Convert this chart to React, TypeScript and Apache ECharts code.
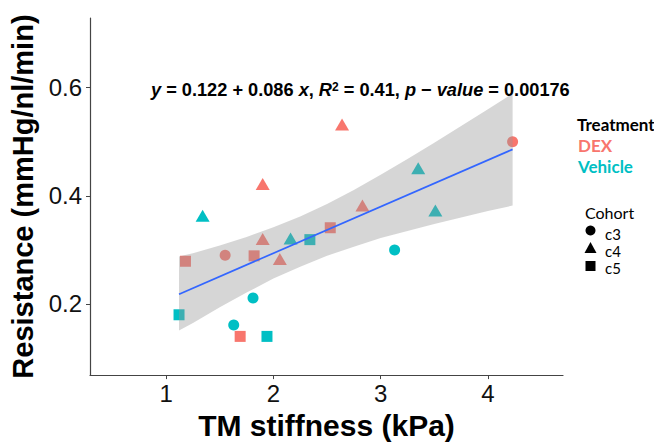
import React, { useEffect, useRef } from "react";
import * as echarts from "echarts";

// ---- data ----
const dexC3: [number, number][] = [[1.55, 0.29], [4.23, 0.5]];
const dexC4: [number, number][] = [[1.9, 0.32], [1.9, 0.422], [2.06, 0.283], [2.64, 0.532], [2.83, 0.382]];
const dexC5: [number, number][] = [[1.18, 0.279], [1.82, 0.289], [2.53, 0.341], [1.69, 0.14]];
const vehC3: [number, number][] = [[1.81, 0.211], [1.63, 0.161], [3.13, 0.3]];
const vehC4: [number, number][] = [[1.34, 0.363], [2.16, 0.321], [3.35, 0.451], [3.51, 0.373]];
const vehC5: [number, number][] = [[1.12, 0.18], [2.34, 0.319], [1.94, 0.14]];

const fitX = [1.12, 4.23];
const fitY = [0.218, 0.486];

const bandX = [1.12, 1.25, 1.5, 1.75, 2.0, 2.25, 2.5, 2.75, 3.0, 3.25, 3.5, 3.75, 4.0, 4.23];
const bandLo = [0.151, 0.165, 0.194, 0.221, 0.247, 0.269, 0.289, 0.306, 0.322, 0.335, 0.348, 0.36, 0.372, 0.382];
const bandHi = [0.288, 0.294, 0.308, 0.324, 0.342, 0.362, 0.385, 0.411, 0.439, 0.468, 0.498, 0.529, 0.56, 0.589];

const xTicks = [1, 2, 3, 4];
const yTicks = [0.2, 0.4, 0.6];
const treatments = ["DEX", "Vehicle"];
const cohorts = ["c3", "c4", "c5"];

const DEX_COLOR = "#F8766D";
const VEH_COLOR = "#00BFC4";
const FONT = '"Liberation Sans", Arial, sans-serif';
const LEG_FONT = 'Lato, "Liberation Sans", sans-serif';

export default function App() {
  const ref = useRef<HTMLDivElement>(null);
  useEffect(() => {
    if (!ref.current) return;
    const chart = echarts.init(ref.current, undefined, { renderer: "svg" });

    const scatter = (name: string, data: [number, number][], color: string, symbol: string, size: any) => ({
      type: "scatter",
      name,
      data,
      symbol,
      symbolSize: size,
      itemStyle: { color, opacity: 1 },
      z: 2,
      silent: true,
    });

    const bandData = bandX.map((x, i) => [x, bandLo[i], bandHi[i]]);

    chart.setOption({
      animation: false,
      grid: { left: 90, right: 91, top: 18, bottom: 67 },
      xAxis: {
        type: "value",
        min: 0.29,
        max: 4.7,
        name: "TM stiffness (kPa)",
        nameLocation: "middle",
        nameGap: 33,
        nameTextStyle: { fontSize: 30, fontWeight: "bold", color: "#000", fontFamily: FONT },
        axisLine: { show: true, lineStyle: { color: "#444", width: 1.2 } },
        axisTick: { show: true, length: 4, customValues: xTicks, lineStyle: { color: "#444" } },
        axisLabel: { customValues: xTicks, fontSize: 24, color: "#111", fontFamily: FONT, margin: 6 },
        splitLine: { show: false },
      },
      yAxis: {
        type: "value",
        min: 0.0684,
        max: 0.729,
        name: "Resistance (mmHg/nl/min)",
        nameLocation: "middle",
        nameGap: 50,
        nameTextStyle: { fontSize: 29, fontWeight: "bold", color: "#000", fontFamily: FONT, padding: [0, 0, 0, 0] },
        axisLine: { show: true, lineStyle: { color: "#444", width: 1.2 } },
        axisTick: { show: true, length: 4, customValues: yTicks, lineStyle: { color: "#444" } },
        axisLabel: { customValues: yTicks, fontSize: 24, color: "#111", fontFamily: FONT, margin: 8, formatter: (v: number) => v.toFixed(1) },
        splitLine: { show: false },
      },
      series: [
        scatter("DEX c3", dexC3, DEX_COLOR, "circle", 11),
        scatter("DEX c4", dexC4, DEX_COLOR, "triangle", [14, 12]),
        scatter("DEX c5", dexC5, DEX_COLOR, "rect", 11),
        scatter("Vehicle c3", vehC3, VEH_COLOR, "circle", 11),
        scatter("Vehicle c4", vehC4, VEH_COLOR, "triangle", [14, 12]),
        scatter("Vehicle c5", vehC5, VEH_COLOR, "rect", 11),
        {
          type: "custom",
          name: "band",
          data: bandData,
          encode: { x: 0, y: [1, 2] },
          z: 3,
          silent: true,
          renderItem: (params: any, api: any) => {
            if (params.dataIndexInside !== 0) return null;
            const pts: number[][] = [];
            for (let i = 0; i < bandX.length; i++) pts.push(api.coord([bandX[i], bandHi[i]]));
            for (let i = bandX.length - 1; i >= 0; i--) pts.push(api.coord([bandX[i], bandLo[i]]));
            return { type: "polygon", shape: { points: pts }, style: { fill: "rgba(153,153,153,0.4)" } };
          },
        },
        {
          type: "line",
          name: "fit",
          data: fitX.map((x, i) => [x, fitY[i]]),
          showSymbol: false,
          lineStyle: { color: "#3366FF", width: 1.7 },
          z: 4,
          silent: true,
        },
      ],
      graphic: [
        {
          type: "text",
          left: 151,
          top: 80.5,
          z: 10,
          style: {
            text: "{i|y} = 0.122 + 0.086 {i|x}, {i|R}{s|2} = 0.41, {i|p} − {i|value} = 0.00176",
            fontSize: 18.2,
            fontWeight: "bold",
            fontFamily: FONT,
            fill: "#000",
            rich: {
              i: { fontStyle: "italic", fontWeight: "bold", fontSize: 18.2, fontFamily: FONT, fill: "#000" },
              s: { fontSize: 12, fontWeight: "bold", fontFamily: FONT, verticalAlign: "top", fill: "#000" },
            },
          },
        },
        { type: "text", left: 577, top: 116, style: { text: "Treatment", fontSize: 17, fontWeight: "bold", fontFamily: LEG_FONT, fill: "#000" } },
        { type: "text", left: 578, top: 137, style: { text: treatments[0], fontSize: 17, fontWeight: "bold", fontFamily: LEG_FONT, fill: DEX_COLOR } },
        { type: "text", left: 578, top: 157.5, style: { text: treatments[1], fontSize: 17, fontWeight: "bold", fontFamily: LEG_FONT, fill: VEH_COLOR } },
        { type: "text", left: 585, top: 204, style: { text: "Cohort", fontSize: 16, fontFamily: LEG_FONT, fill: "#000" } },
        { type: "circle", shape: { cx: 590.5, cy: 230.5, r: 5 }, style: { fill: "#000" } },
        { type: "polygon", shape: { points: [[590.5, 242], [596.5, 253], [584.5, 253]] }, style: { fill: "#000" } },
        { type: "rect", shape: { x: 585.5, y: 261, width: 10, height: 10 }, style: { fill: "#000" } },
        { type: "text", left: 605, top: 226, style: { text: cohorts[0], fontSize: 15, fontFamily: LEG_FONT, fill: "#000" } },
        { type: "text", left: 605, top: 243, style: { text: cohorts[1], fontSize: 15, fontFamily: LEG_FONT, fill: "#000" } },
        { type: "text", left: 605, top: 260, style: { text: cohorts[2], fontSize: 15, fontFamily: LEG_FONT, fill: "#000" } },
      ],
    });
    return () => chart.dispose();
  }, []);
  return <div ref={ref} style={{ position: "fixed", left: 0, top: 0, width: 654, height: 445, background: "#fff" }} />;
}
